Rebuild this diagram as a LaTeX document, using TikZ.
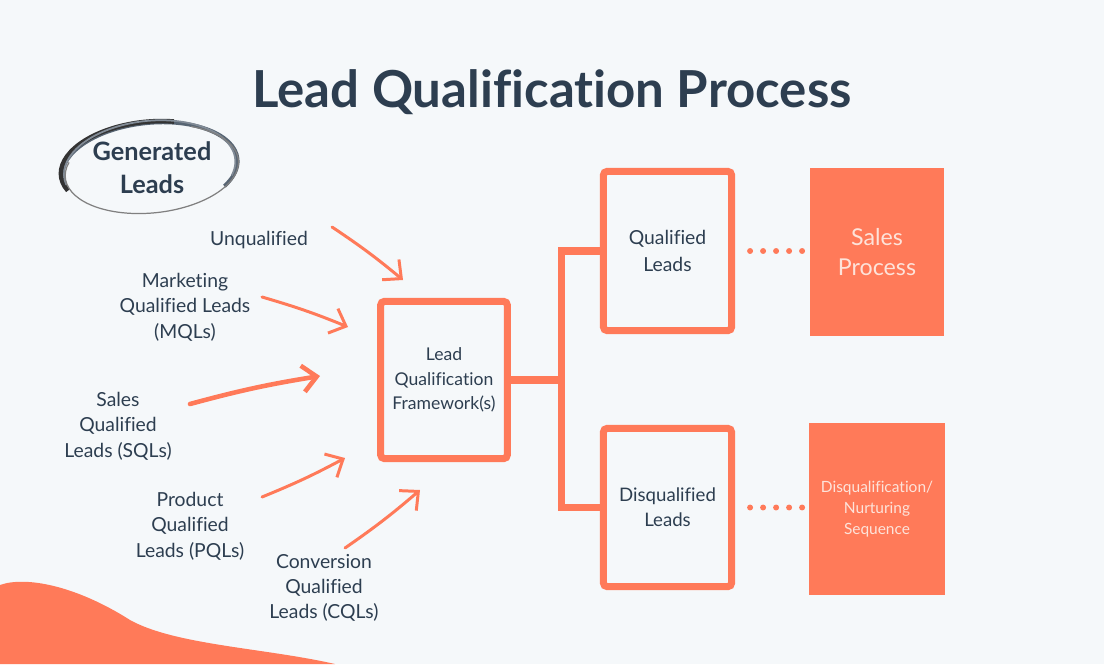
\documentclass[tikz,border=0pt]{standalone}
\usepackage{fontspec}
\setmainfont[Ligatures=CommonOff]{Lato}
\usetikzlibrary{arrows.meta}
\definecolor{bgcol}{HTML}{F5F8FA}
\definecolor{hsorange}{HTML}{FF7A59}
\definecolor{navy}{HTML}{2D3E50}
\definecolor{paletext}{HTML}{FDE3DA}
\tikzset{
  lbl/.style = {text=navy, align=center, font=\fontsize{5.5}{7.2}\selectfont},
  box/.style = {draw=hsorange, line width=2pt, rounded corners=1pt, fill=bgcol,
                text=navy, align=center},
  solid box/.style = {fill=hsorange, text=paletext, align=center},
  link/.style = {draw=hsorange, line width=2pt},
  arrow/.style = {draw=hsorange, line width=0.85pt, line cap=round,
                  -{Straight Barb[length=4pt,width=7.5pt]}},
  dots/.style = {draw=hsorange, line width=1.7pt, line cap=round,
                 dash pattern=on 0pt off 0.13cm}
}
\begin{document}
\begin{tikzpicture}[x=0.01cm, y=-0.01cm]
\fill[bgcol] (0,0) rectangle (1104,664);
\useasboundingbox (0,0) rectangle (1104,664);

% blob in the corner
\fill[hsorange] (0,585) .. controls (25,576) and (75,585) .. (130,620)
  .. controls (175,645) and (265,648) .. (335,664) -- (0,664) -- cycle;

\node[text=navy, font=\fontsize{14.5}{16}\selectfont\bfseries] (title) at (552,92)
  {Lead Qualification Process};

% generated leads, sketched ring
\begin{scope}[shift={(150,168)}, rotate=6]
\draw[navy!80, line width=1.1pt] (-88,0) arc[start angle=180, end angle=395, x radius=88, y radius=45];
\draw[black!80, line width=1.3pt] (-84,14) arc[start angle=160, end angle=290, x radius=88, y radius=45];
\draw[navy!60, line width=0.5pt] (-85,8) arc[start angle=170, end angle=380, x radius=86, y radius=47];
\draw[gray, line width=0.35pt] (-80,-14) arc[start angle=200, end angle=-60, x radius=87, y radius=44];
\end{scope}
\node[text=navy, align=center, font=\fontsize{7.2}{9.3}\selectfont\bfseries] (gen) at (152,168)
  {Generated\\Leads};

% lead types
\node[lbl] (unq) at (259,240) {Unqualified};
\node[lbl] (mql) at (185,307) {Marketing\\Qualified Leads\\(MQLs)};
\node[lbl] (sql) at (118,426) {Sales\\Qualified\\Leads (SQLs)};
\node[lbl] (pql) at (190,526) {Product\\Qualified\\Leads (PQLs)};
\node[lbl] (cql) at (324,588) {Conversion\\Qualified\\Leads (CQLs)};

\coordinate (unqA) at (332,227);  \coordinate (unqB) at (403,280);
\coordinate (mqlA) at (262,297);  \coordinate (mqlB) at (348,327);
\coordinate (sqlA) at (190,404);  \coordinate (sqlB) at (320,376);
\coordinate (pqlA) at (262,497);  \coordinate (pqlB) at (345,458);
\coordinate (cqlA) at (345,548);  \coordinate (cqlB) at (420,490);

\draw[arrow] (unqA) to[bend left=3] (unqB);
\draw[arrow] (mqlA) to[bend left=3] (mqlB);
\draw[arrow, line width=1.3pt] (sqlA) to[bend left=3] (sqlB);
\draw[arrow] (pqlA) to[bend right=3] (pqlB);
\draw[arrow] (cqlA) to[bend right=3] (cqlB);

% framework and results
\node[box, minimum width=1.25cm, minimum height=1.57cm, font=\fontsize{5}{7}\selectfont]
  (lqf) at (444,380) {Lead\\Qualification\\Framework(s)};
\node[box, minimum width=1.28cm, minimum height=1.59cm, font=\fontsize{5.5}{7.8}\selectfont]
  (ql) at (667.5,251) {Qualified\\Leads};
\node[box, minimum width=1.28cm, minimum height=1.58cm, font=\fontsize{5.3}{7}\selectfont]
  (dq) at (667.5,507.5) {Disqualified\\Leads};
\node[solid box, minimum width=1.34cm, minimum height=1.68cm, font=\fontsize{6.6}{8.5}\selectfont]
  (sales) at (877,252) {Sales\\Process};
\node[solid box, minimum width=1.34cm, minimum height=1.72cm, font=\fontsize{4.4}{5.9}\selectfont]
  (nurt) at (877,509) {Disqualification/\\Nurturing\\Sequence};

\draw[link] (lqf.east) -- ++(50.5,0) coordinate (fork);
\draw[link] (ql.west) -| (fork) |- (dq.west);

\draw[dots, shorten <=0.15cm, shorten >=0.04cm] (ql.east) -- (sales.west |- ql.east);
\draw[dots, shorten <=0.15cm, shorten >=0.04cm] (dq.east) -- (nurt.west |- dq.east);
\end{tikzpicture}
\end{document}
